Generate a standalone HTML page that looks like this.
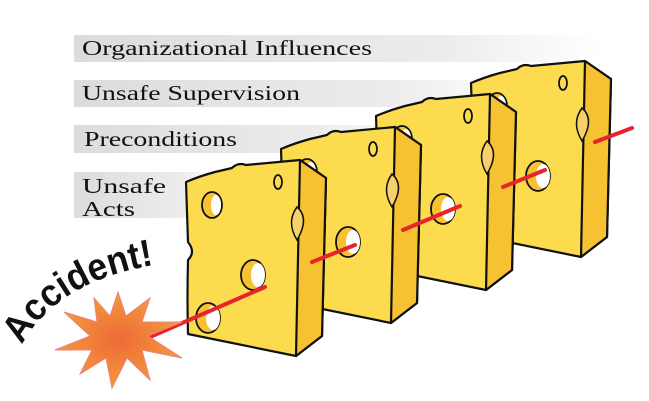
<!DOCTYPE html>
<html><head><style>
html,body{margin:0;padding:0;background:#fff;width:649px;height:401px;overflow:hidden}
</style></head><body>
<svg width="649" height="401" viewBox="0 0 649 401" xmlns="http://www.w3.org/2000/svg">
<defs>
<linearGradient id="bar" x1="0" x2="1" y1="0" y2="0">
<stop offset="0" stop-color="#dcdcdc"/><stop offset="0.7" stop-color="#ececec"/><stop offset="1" stop-color="#ffffff"/>
</linearGradient>
<radialGradient id="burst"><stop offset="0" stop-color="#ee6a3a"/><stop offset="1" stop-color="#f39a3a"/></radialGradient>
<path id="arc" d="M22,345 Q60,275 175,262" fill="none"/>
<g id="cheese">
<path d="M186,182 Q200,176 215,172 L232,168 Q238,162 246,165 L300,160 L326,178 L322,336 L296,356 L188,334 Q187,300 188,260 Q196,252 188,242 Z" fill="#fcdb4e" stroke="#111" stroke-width="2.2" stroke-linejoin="round"/>
<path d="M300,160 L326,178 L322,336 L296,356 Z" fill="#f6c232" stroke="#111" stroke-width="2.2" stroke-linejoin="round"/>
<ellipse cx="212" cy="205" rx="10" ry="13" fill="#f6c232" stroke="#111" stroke-width="1.8"/>
<ellipse cx="216" cy="205" rx="5" ry="10" fill="#fff"/>
<ellipse cx="278" cy="182" rx="4" ry="7" fill="none" stroke="#111" stroke-width="1.8"/>
<path d="M297,207 Q310,218 297,240 Q286,222 297,207Z" fill="#f6d06a" stroke="#111" stroke-width="1.5"/>
<ellipse cx="253" cy="275" rx="12" ry="15" fill="#f6c232" stroke="#111" stroke-width="1.8"/>
<ellipse cx="258" cy="275" rx="7" ry="12" fill="#fff"/>
<ellipse cx="208" cy="318" rx="12" ry="15" fill="#f6c232" stroke="#111" stroke-width="1.8"/>
<ellipse cx="213" cy="318" rx="7" ry="12" fill="#fff"/>
</g>
</defs>
<rect x="74" y="35" width="526" height="27" fill="url(#bar)"/>
<rect x="74" y="80" width="450" height="27" fill="url(#bar)"/>
<rect x="74" y="125" width="350" height="28" fill="url(#bar)"/>
<rect x="74" y="172" width="150" height="46" fill="url(#bar)"/>
<g font-family="'Liberation Serif',serif" font-size="21" fill="#111">
<text x="82" y="55" textLength="290" lengthAdjust="spacingAndGlyphs">Organizational Influences</text>
<text x="82" y="100" textLength="218" lengthAdjust="spacingAndGlyphs">Unsafe Supervision</text>
<text x="84" y="146" textLength="153" lengthAdjust="spacingAndGlyphs">Preconditions</text>
<text x="82" y="193" textLength="84" lengthAdjust="spacingAndGlyphs">Unsafe</text>
<text x="82" y="216" textLength="53" lengthAdjust="spacingAndGlyphs">Acts</text>
</g>
<use href="#cheese" transform="translate(285,-99)"/>
<use href="#cheese" transform="translate(190,-66)"/>
<use href="#cheese" transform="translate(95,-33)"/>
<use href="#cheese"/>
<g stroke="#e8242a" stroke-width="4" stroke-linecap="round">
<line x1="150" y1="337" x2="265" y2="287"/>
<line x1="312" y1="262" x2="355" y2="245"/>
<line x1="403" y1="230" x2="460" y2="206"/>
<line x1="503" y1="187" x2="545" y2="170"/>
<line x1="595" y1="142" x2="632" y2="128"/>
</g>
<polygon points="118,292 126,316 150,298 142,322 182,322 148,336 182,358 142,350 150,380 127,358 112,388 106,358 80,374 92,350 55,350 90,336 64,312 97,322 94,298 110,316" fill="url(#burst)" stroke="#f08080" stroke-width="1"/>
<text font-family="'Liberation Sans',sans-serif" font-weight="bold" font-size="38" fill="#111" textLength="160" lengthAdjust="spacingAndGlyphs"><textPath href="#arc">Accident!</textPath></text>
</svg>
</body></html>
